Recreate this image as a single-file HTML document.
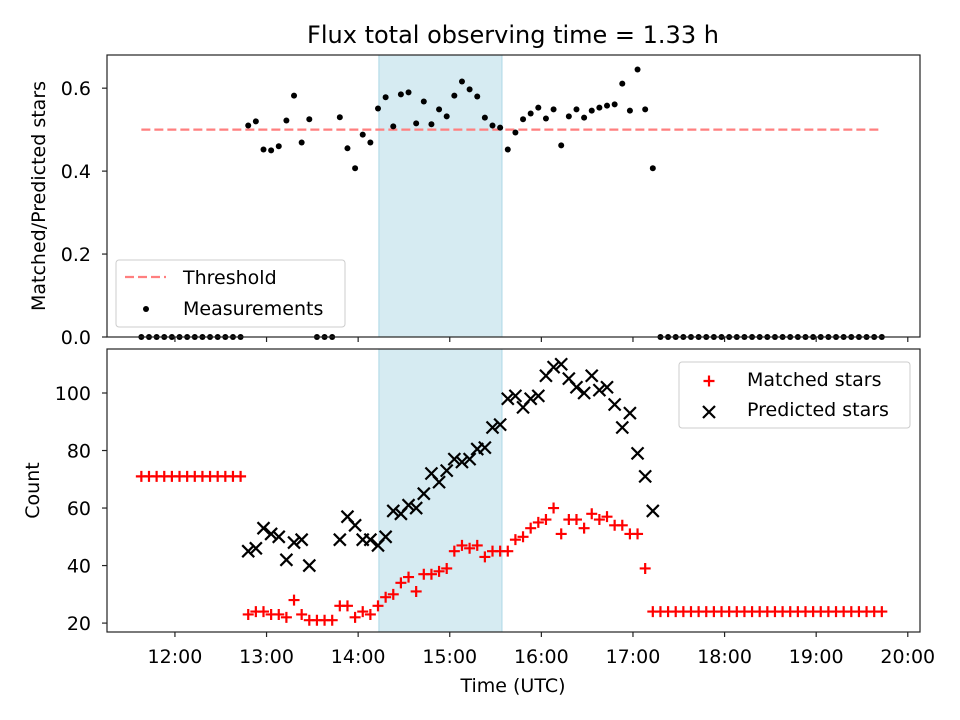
<!DOCTYPE html>
<html><head><meta charset="utf-8"><style>
body{margin:0;background:#fff;}
svg{display:block;font-family:"DejaVu Sans","Liberation Sans",sans-serif;}
</style></head><body>
<svg id="chart" width="960" height="720" viewBox="0 0 960 720"></svg>
<script>
const timesMin=[698,703,708,713,718,723,728,733,738,743,748,753,758,763,768,773,778,783,788,793,798,803,808,813,818,823,828,833,838,843,848,853,858,863,868,873,878,883,888,893,898,903,908,913,918,923,928,933,938,943,948,953,958,963,968,973,978,983,988,993,998,1003,1008,1013,1018,1023,1028,1033,1038,1043,1048,1053,1058,1063,1068,1073,1078,1083,1088,1093,1098,1103,1108,1113,1118,1123,1128,1133,1138,1143,1148,1153,1158,1163,1168,1173,1178,1183];
const ratio=[0,0,0,0,0,0,0,0,0,0,0,0,0,0,
0.51,0.52,0.452,0.45,0.46,0.522,0.582,0.469,0.525,
0,0,0,
0.53,0.455,0.407,0.488,0.469,0.551,0.578,0.508,0.585,0.59,0.515,0.568,0.513,0.549,0.532,0.582,0.616,
0.597,0.58,0.529,0.51,0.505,0.452,0.493,0.525,0.539,0.553,0.527,0.549,0.462,0.532,0.549,0.529,0.546,0.553,0.558,0.561,0.611,0.546,0.645,0.549,0.407,
0,0,0,0,0,0,0,0,0,0,0,0,0,0,0,0,0,0,0,0,0,0,0,0,0,0,0,0,0,0];
const matched=[71,71,71,71,71,71,71,71,71,71,71,71,71,71,
23,24,24,23,23,22,28,23,21,
21,21,21,
26,26,22,24,23,26,29,30,34,36,31,37,37,38,39,45,47,46,47,
43,45,45,45,49,50,53,55,56,60,51,56,56,53,58,56,57,54,54,51,51,39,24,
24,24,24,24,24,24,24,24,24,24,24,24,24,24,24,24,24,24,24,24,24,24,24,24,24,24,24,24,24,24];
const predicted=[null,null,null,null,null,null,null,null,null,null,null,null,null,null,
45,46,53,51,50,42,48,49,40,
null,null,null,
49,57,54,49,49,47,50,59,58,61,60,65,72,69,73,77,76,77,
80.5,81,88,89,98,99,95,98,99,106,109,110,105,102,100,106,101,102,96,88,93,79,71,59,
null,null,null,null,null,null,null,null,null,null,null,null,null,null,null,null,null,null,null,null,null,null,null,null,null,null,null,null,null,null];
const threshold=0.5;
const spanStartMin=853.6, spanEndMin=934.2;
const xTicksMin=[720,780,840,900,960,1020,1080,1140,1200];
const xTickLabels=["12:00","13:00","14:00","15:00","16:00","17:00","18:00","19:00","20:00"];
const topTicks=[0,0.2,0.4,0.6];
const topTickLabels=["0.0","0.2","0.4","0.6"];
const botTicks=[20,40,60,80,100];

const NS="http://www.w3.org/2000/svg";
const svg=document.getElementById('chart');
function mk(tag,attrs,parent){const e=document.createElementNS(NS,tag);for(const k in attrs)e.setAttribute(k,attrs[k]);(parent||svg).appendChild(e);return e;}
const L=107,R=920,T1=55,B1=337,T2=349,B2=632;
const FS=19;
const xMin=675.5,xMax=1208;
const x=m=>L+(m-xMin)/(xMax-xMin)*(R-L);
const y1=v=>B1-(v-0)/(0.68-0)*(B1-T1);
const y2=v=>B2-(v-16.9)/(115.3-16.9)*(B2-T2);

let t=mk('text',{x:513,y:43,'text-anchor':'middle','font-size':24});t.textContent='Flux total observing time = 1.33 h';


[[T1,B1],[T2,B2]].forEach((p,i)=>{const r=mk('rect',{x:x(spanStartMin),y:p[0],width:x(spanEndMin)-x(spanStartMin),height:p[1]-p[0],fill:'#add8e6','fill-opacity':0.5,stroke:'#add8e6'});
});

let th=mk('line',{x1:x(timesMin[0]),x2:x(timesMin[timesMin.length-1]),y1:y1(threshold),y2:y1(threshold),stroke:'#ff7f7f','stroke-width':2.2,'stroke-dasharray':'9,4'});


const gm=mk('g',{});
timesMin.forEach((m,i)=>{const c=mk('circle',{cx:x(m),cy:y1(ratio[i]),r:3,fill:'#000'},gm);
});

const gr=mk('g',{stroke:'red','stroke-width':2.2});
timesMin.forEach((m,i)=>{if(matched[i]==null)return;const cx=x(m),cy=y2(matched[i]);
const p=mk('path',{d:`M${cx-5.5},${cy}H${cx+5.5}M${cx},${cy-5.5}V${cy+5.5}`,fill:'none'},gr);
});
const gp=mk('g',{stroke:'#000','stroke-width':2.2});
timesMin.forEach((m,i)=>{if(predicted[i]==null)return;const cx=x(m),cy=y2(predicted[i]);
const p=mk('path',{d:`M${cx-6},${cy-6}L${cx+6},${cy+6}M${cx-6},${cy+6}L${cx+6},${cy-6}`,fill:'none'},gp);
});

[[T1,B1,'top-axes-frame'],[T2,B2,'bottom-axes-frame']].forEach(f=>{const r=mk('rect',{x:L,y:f[0],width:R-L,height:f[1]-f[0],fill:'none',stroke:'#222','stroke-width':1.2});
});

xTicksMin.forEach((m,i)=>{const xx=x(m);
mk('line',{x1:xx,x2:xx,y1:B1,y2:B1+5,stroke:'#222','stroke-width':1.2});
mk('line',{x1:xx,x2:xx,y1:B2,y2:B2+5,stroke:'#222','stroke-width':1.2});
const l=mk('text',{x:xx,y:663,'text-anchor':'middle','font-size':FS});l.textContent=xTickLabels[i];
});
topTicks.forEach((v,i)=>{const yy=y1(v);mk('line',{x1:L-5,x2:L,y1:yy,y2:yy,stroke:'#222','stroke-width':1.2});
const l=mk('text',{x:91,y:yy+7,'text-anchor':'end','font-size':FS});l.textContent=topTickLabels[i];
});
botTicks.forEach(v=>{const yy=y2(v);mk('line',{x1:L-5,x2:L,y1:yy,y2:yy,stroke:'#222','stroke-width':1.2});
const l=mk('text',{x:91,y:yy+7,'text-anchor':'end','font-size':FS});l.textContent=v;
});

let a=mk('text',{x:513,y:692,'text-anchor':'middle','font-size':FS});a.textContent='Time (UTC)';

a=mk('text',{x:0,y:0,'text-anchor':'middle','font-size':FS,transform:`translate(45,${(T1+B1)/2}) rotate(-90)`});a.textContent='Matched/Predicted stars';

a=mk('text',{x:0,y:0,'text-anchor':'middle','font-size':FS,transform:`translate(39,${(T2+B2)/2}) rotate(-90)`});a.textContent='Count';


let lg=mk('g',{});
mk('rect',{x:116,y:260,width:229,height:67,rx:3,fill:'#fff','fill-opacity':0.8,stroke:'#ccc'},lg);
mk('line',{x1:125,x2:166,y1:277,y2:277,stroke:'#ff7f7f','stroke-width':2.2,'stroke-dasharray':'9,4'},lg);
let lt=mk('text',{x:183,y:284,'font-size':FS},lg);lt.textContent='Threshold';

mk('circle',{cx:146,cy:309,r:3,fill:'#000'},lg);
lt=mk('text',{x:183,y:315,'font-size':FS},lg);lt.textContent='Measurements';


lg=mk('g',{});
mk('rect',{x:679,y:362,width:231,height:66,rx:3,fill:'#fff','fill-opacity':0.8,stroke:'#ccc'},lg);
mk('path',{d:'M703.5,381H714.5M709,375.5V386.5',stroke:'red','stroke-width':2.2},lg);
lt=mk('text',{x:747,y:386,'font-size':FS},lg);lt.textContent='Matched stars';

mk('path',{d:'M703,406L715,418M703,418L715,406',stroke:'#000','stroke-width':2.2},lg);
lt=mk('text',{x:747,y:416,'font-size':FS},lg);lt.textContent='Predicted stars';

</script>
</body></html>
